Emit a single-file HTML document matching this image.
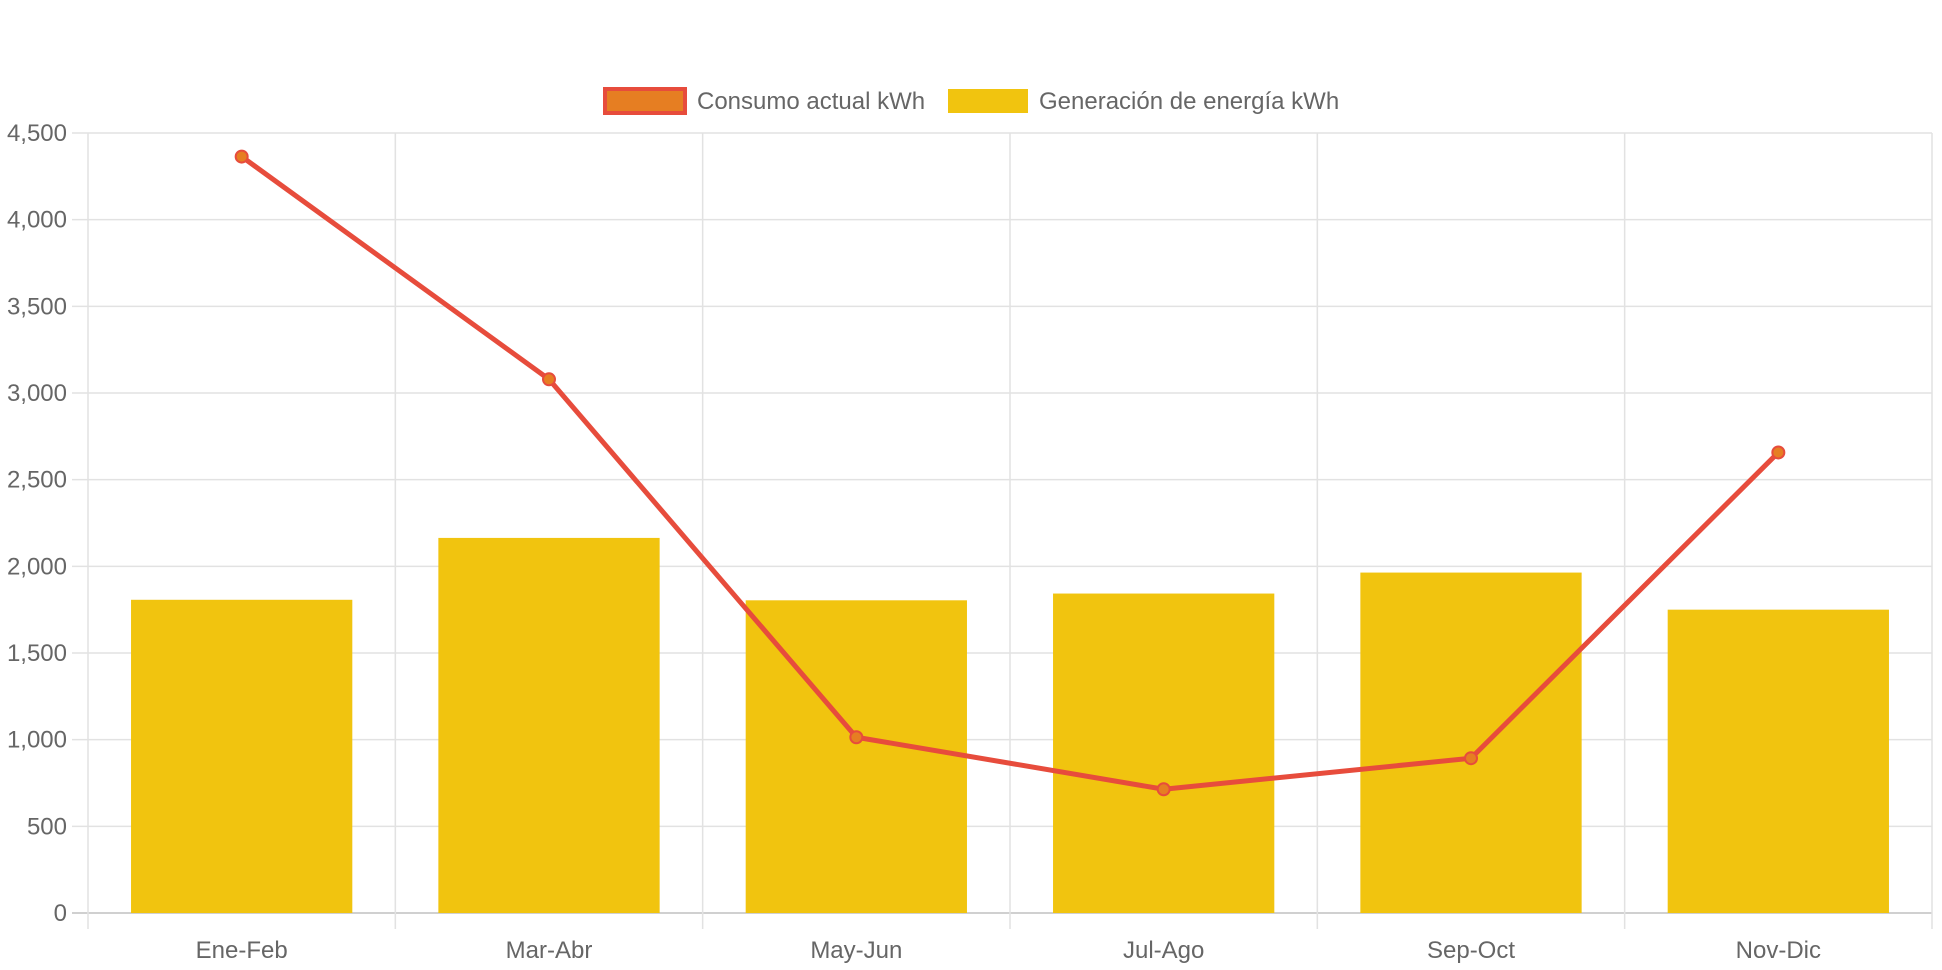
<!DOCTYPE html>
<html><head><meta charset="utf-8"><style>
html,body{margin:0;padding:0;background:#fff;}
svg{display:block;font-family:"Liberation Sans",sans-serif;}
</style></head><body>
<svg id="chart" width="1942" height="970">
<g id="legend">
 <g>
  <rect x="605" y="89" width="80" height="24" fill="#e67e22" stroke="#e74c3c" stroke-width="4"/>
  <text x="697" y="109" font-size="24" fill="#666">Consumo actual kWh</text>
 </g>
 <g>
  <rect x="948" y="89" width="80" height="24" fill="#f1c40f"/>
  <text x="1039" y="109" font-size="24" fill="#666">Generación de energía kWh</text>
 </g>
</g>
<g id="grid"></g><g id="bars"></g><g id="line"></g><g id="axes"></g>
</svg>
<script>
const categories=["Ene-Feb","Mar-Abr","May-Jun","Jul-Ago","Sep-Oct","Nov-Dic"];
const consumo=[4364,3079,1014,714,893,2657];
const generacion=[1807,2164,1804,1843,1964,1750];
const yTicks=[0,500,1000,1500,2000,2500,3000,3500,4000,4500];
const yTickLabels=["0","500","1,000","1,500","2,000","2,500","3,000","3,500","4,000","4,500"];
const NS="http://www.w3.org/2000/svg";
const L=88,R=1932,T=133,B=913,YMAX=4500;
const cw=(R-L)/categories.length;
function y(v){return B-(v/YMAX)*(B-T);}
function xc(i){return L+cw*(i+0.5);}
function mk(tag,attrs,parent){const e=document.createElementNS(NS,tag);for(const k in attrs)e.setAttribute(k,attrs[k]);document.getElementById(parent).appendChild(e);return e;}
yTicks.forEach((t,i)=>{
 const g=mk('line',{x1:L-16,x2:R,y1:y(t),y2:y(t),stroke:i==0?'#d0d0d0':'#e2e2e2','stroke-width':i==0?2:1.5},'grid');
 
 
 const tx=mk('text',{x:67,y:y(t)+8,'text-anchor':'end','font-size':24,fill:'#666'},'axes');
 tx.textContent=yTickLabels[i];
 
 
});
for(let i=0;i<=categories.length;i++){
 const gx=L+cw*i;
 const g=mk('line',{x1:gx,x2:gx,y1:T,y2:B+16,stroke:'#e2e2e2','stroke-width':1.5},'grid');
 
 
}
categories.forEach((c,i)=>{
 const bw=cw*0.72;
 const b=mk('rect',{x:xc(i)-bw/2,y:y(generacion[i]),width:bw,height:B-y(generacion[i]),fill:'#f1c40f'},'bars');
 
 
 const tx=mk('text',{x:xc(i),y:958,'text-anchor':'middle','font-size':24,fill:'#666'},'axes');
 tx.textContent=c;
 
 
});
const pl=mk('polyline',{points:consumo.map((v,i)=>xc(i)+','+y(v)).join(' '),fill:'none',stroke:'#e74c3c','stroke-width':5,'stroke-linejoin':'round'},'line');


consumo.forEach((v,i)=>{
 const p=mk('circle',{cx:xc(i),cy:y(v),r:6,fill:'#e67e22',stroke:'#e74c3c','stroke-width':2},'line');
 
 
});
</script>
</body></html>
